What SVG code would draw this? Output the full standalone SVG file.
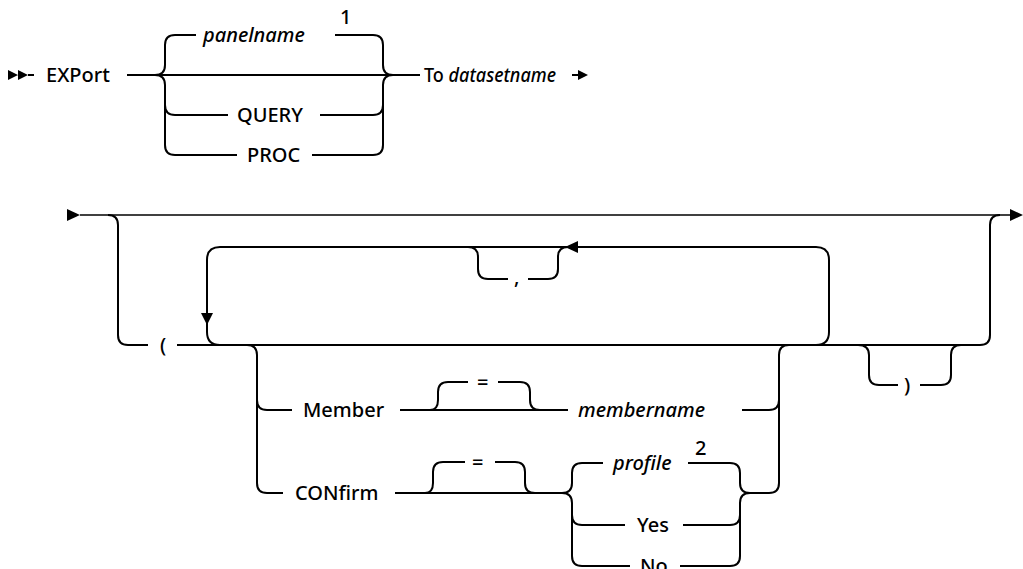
<svg xmlns="http://www.w3.org/2000/svg" width="1023" height="569" viewBox="0 0 1023 569">
<style>
.l{fill:none;stroke:#000;stroke-width:2}
.a{fill:#000}
text{font-family:"Noto Sans","Liberation Sans",sans-serif;font-size:20px;font-weight:500;fill:#000}
.i{font-style:italic}
</style>
<rect width="1023" height="569" fill="#fff"/>
<g id="connectors">
<path class="a" d="M8,70 L8,80 L18,75 Z M18,70 L18,80 L28,75 Z"/>
<path class="l" d="M28,75 H34"/>
<path class="l" d="M127,75 H420"/>
<path class="l" d="M155,75 Q165,75 165,65 V45 Q165,35 175,35 H196"/>
<path class="l" d="M155,75 Q165,75 165,85 V145 Q165,155 175,155 H237"/>
<path class="l" d="M165,105 Q165,115 175,115 H228"/>
<path class="l" d="M335,35 H373 Q383,35 383,45 V65 Q383,75 393,75"/>
<path class="l" d="M312,155 H373 Q383,155 383,145 V85 Q383,75 393,75"/>
<path class="l" d="M320,115 H373 Q383,115 383,105"/>
<path class="l" d="M572,75 H580"/>
<path class="a" d="M578,70 L578,80 L588,75 Z"/>
<path class="a" d="M67,209 L67,221 L80,215 Z"/>
<path class="l" d="M80,215 H1010" style="stroke-width:1.7"/>
<path class="a" d="M1010,209 L1010,221 L1023,215 Z"/>
<path class="l" d="M108,215 Q118,215 118,225 V335 Q118,345 128,345 H148"/>
<path class="l" d="M177,345 H980"/>
<path class="l" d="M220,345 Q207,345 207,332 V260 Q207,247 220,247 H816 Q829,247 829,260 V332 Q829,345 816,345"/>
<path class="a" d="M201,313 L213,313 L207,325 Z"/>
<path class="a" d="M565,247 L578,241 L578,253 Z"/>
<path class="l" d="M468,247 Q478,247 478,257 V269 Q478,279 488,279 H508"/>
<path class="l" d="M528,279 H548 Q558,279 558,269 V257 Q558,247 568,247"/>
<path class="l" d="M247,345 Q257,345 257,355 V483 Q257,493 267,493 H283"/>
<path class="l" d="M257,400 Q257,410 267,410 H292"/>
<path class="l" d="M400,410 H568"/>
<path class="l" d="M430,410 Q438,410 438,400 V392 Q438,382 448,382 H468"/>
<path class="l" d="M498,382 H520 Q530,382 530,392 V400 Q530,410 540,410"/>
<path class="l" d="M742,410 H769 Q779,410 779,400"/>
<path class="l" d="M789,345 Q779,345 779,355 V483 Q779,493 769,493"/>
<path class="l" d="M395,493 H562"/>
<path class="l" d="M425,493 Q433,493 433,483 V472 Q433,462 443,462 H465"/>
<path class="l" d="M495,462 H515 Q525,462 525,472 V483 Q525,493 535,493"/>
<path class="l" d="M562,493 Q572,493 572,483 V473 Q572,463 582,463 H603"/>
<path class="l" d="M562,493 Q572,493 572,503 V556 Q572,566 582,566 H630"/>
<path class="l" d="M572,515 Q572,525 582,525 H625"/>
<path class="l" d="M688,463 H730 Q740,463 740,473 V483 Q740,493 750,493 H769"/>
<path class="l" d="M683,525 H730 Q740,525 740,515"/>
<path class="l" d="M680,566 H730 Q740,566 740,556 V503 Q740,493 750,493"/>
<path class="l" d="M858,345 Q869,345 869,355 V375 Q869,385 879,385 H898"/>
<path class="l" d="M920,385 H941 Q951,385 951,375 V355 Q951,345 961,345"/>
<path class="l" d="M980,345 Q990,345 990,335 V225 Q990,215 1000,215"/>
</g>
<g id="n-export"><text x="46" y="82">EXPort</text></g>
<g id="n-panelname"><text class="i" x="203" y="42">panelname</text><text x="340" y="24" font-size="18">1</text></g>
<g id="n-query"><text x="237" y="122">QUERY</text></g>
<g id="n-proc"><text x="247" y="162">PROC</text></g>
<g id="n-to"><text x="424" y="82" textLength="132" lengthAdjust="spacingAndGlyphs">To <tspan class="i">datasetname</tspan></text></g>
<g id="n-lparen"><text x="160" y="352">(</text></g>
<g id="n-comma"><text x="514" y="284">,</text></g>
<g id="n-member"><text x="303" y="417">Member</text></g>
<g id="n-eq1"><text x="477" y="389">=</text></g>
<g id="n-membername"><text class="i" x="578" y="417">membername</text></g>
<g id="n-confirm"><text x="295" y="500">CONfirm</text></g>
<g id="n-eq2"><text x="472" y="469">=</text></g>
<g id="n-profile"><text class="i" x="613" y="470">profile</text><text x="695" y="455" font-size="18">2</text></g>
<g id="n-yes"><text x="637" y="532">Yes</text></g>
<g id="n-no"><text x="640" y="573">No</text></g>
<g id="n-rparen"><text x="904" y="392">)</text></g>
</svg>
